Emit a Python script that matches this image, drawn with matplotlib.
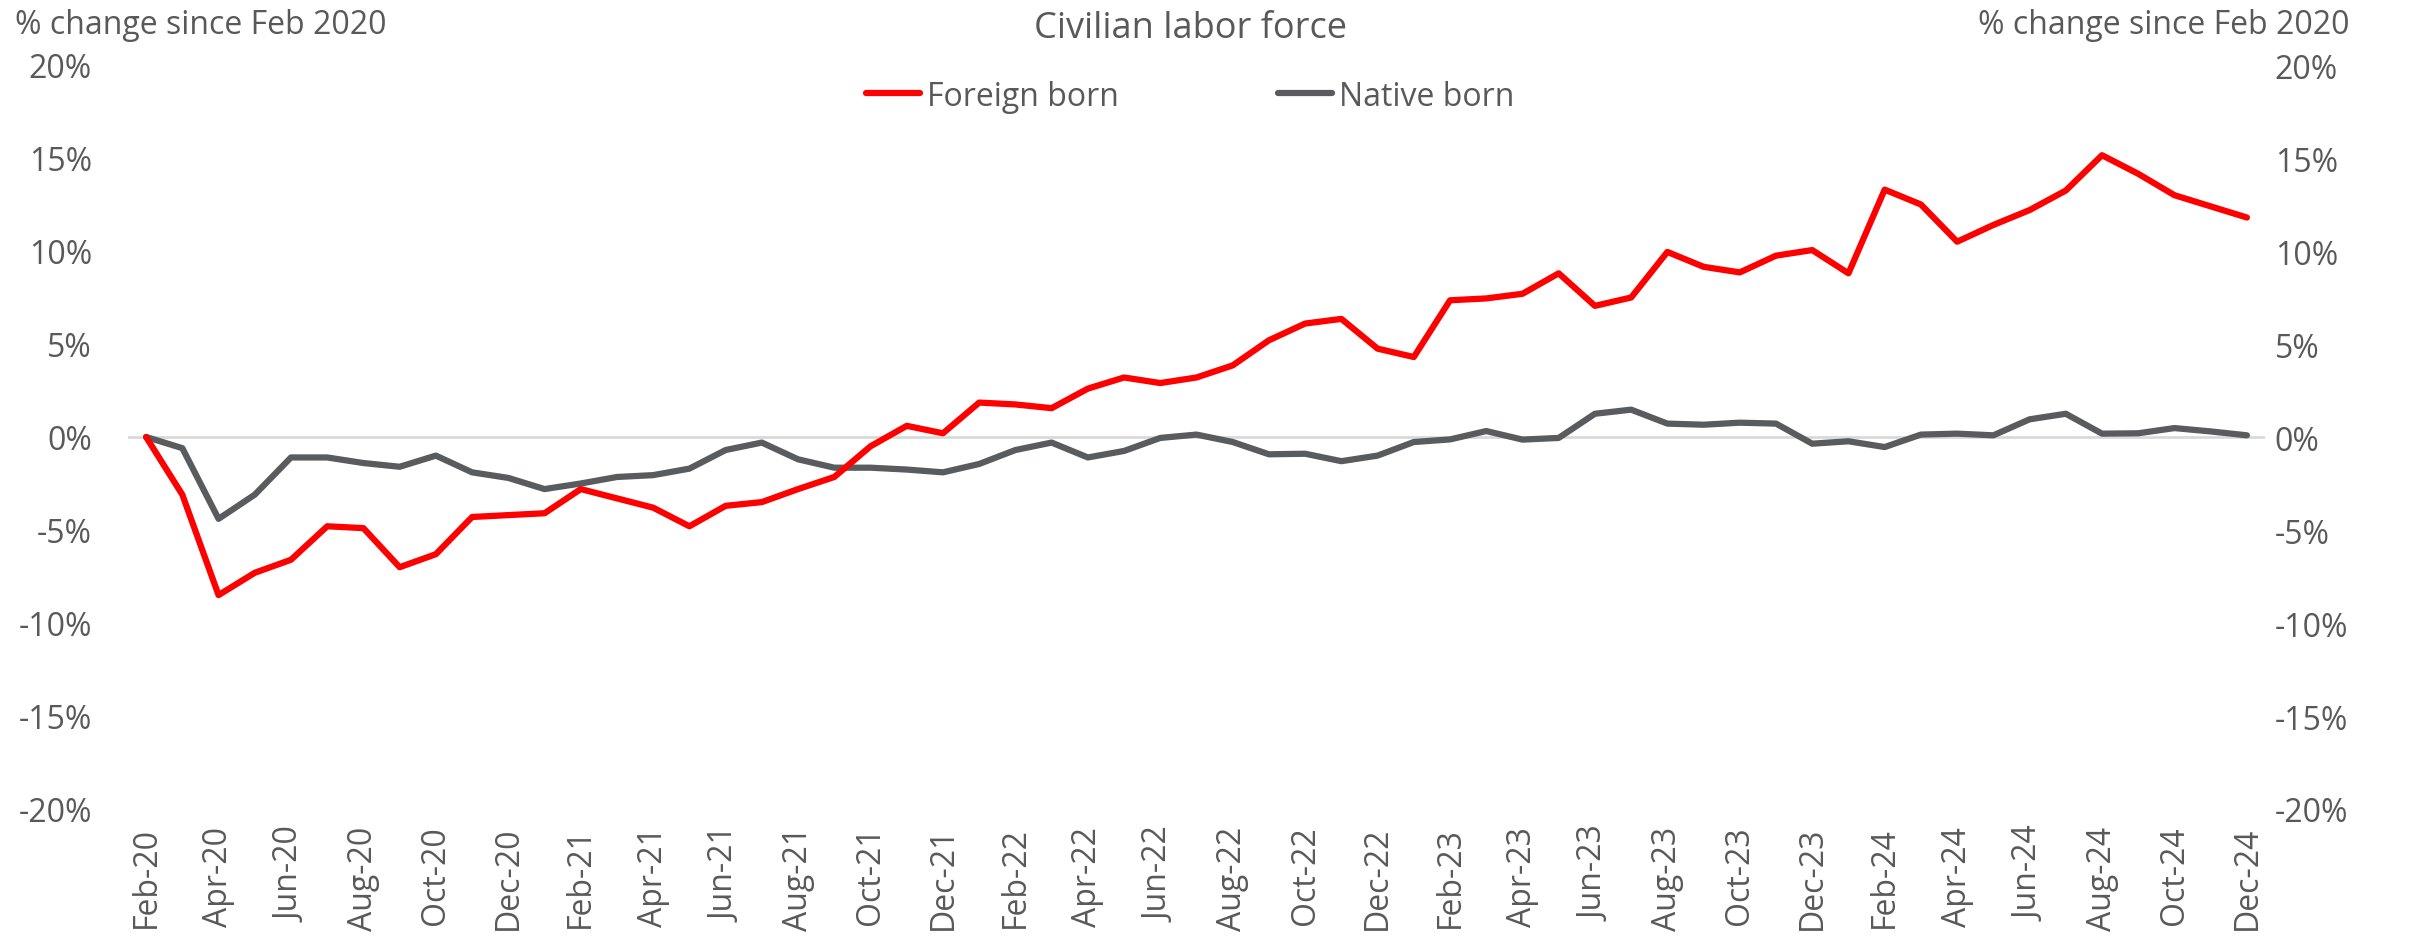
import matplotlib
matplotlib.use("Agg")
import matplotlib.pyplot as plt
import pandas as pd

# ---- data ----
months = pd.date_range("2020-02-01", "2024-12-01", freq="MS")
month_labels = [d.strftime("%b-%y") for d in months]

foreign_born = [
    0.0, -3.1, -8.5, -7.3, -6.6, -4.8, -4.9, -7.0, -6.3, -4.3, -4.2,          # 2020 Feb-Dec
    -4.1, -2.8, -3.3, -3.8, -4.8, -3.7, -3.5, -2.8, -2.15, -0.5, 0.6, 0.2,     # 2021
    1.85, 1.75, 1.55, 2.6, 3.2, 2.9, 3.2, 3.85, 5.2, 6.1, 6.35, 4.75,          # 2022
    4.3, 7.35, 7.45, 7.7, 8.8, 7.05, 7.5, 9.95, 9.15, 8.85, 9.75, 10.05,       # 2023
    8.8, 13.3, 12.5, 10.5, 11.4, 12.2, 13.25, 15.15, 14.15, 13.0, 12.4, 11.8,  # 2024
]
native_born = [
    0.0, -0.6, -4.4, -3.1, -1.1, -1.1, -1.4, -1.6, -1.0, -1.9, -2.2,
    -2.8, -2.5, -2.15, -2.05, -1.7, -0.7, -0.3, -1.2, -1.65, -1.65, -1.75, -1.9,
    -1.45, -0.7, -0.3, -1.1, -0.75, -0.05, 0.13, -0.27, -0.93, -0.9, -1.3, -1.0,
    -0.27, -0.13, 0.32, -0.14, -0.05, 1.25, 1.47, 0.72, 0.66, 0.77, 0.72, -0.36,
    -0.23, -0.54, 0.13, 0.18, 0.09, 0.95, 1.25, 0.18, 0.2, 0.48, 0.3, 0.09,
]
y_ticks = [-20, -15, -10, -5, 0, 5, 10, 15, 20]
series_names = ["Foreign born", "Native born"]
title = "Civilian labor force"
axis_title = "% change since Feb 2020"

# ---- style ----
plt.rcParams["font.family"] = ["Open Sans", "DejaVu Sans"]
TXT = "#595959"
FS = 23

W, H = 2410, 953
fig = plt.figure(figsize=(W / 100, H / 100), dpi=100)
left, right, top, bottom = 128, 2265, 66, 810
ax = fig.add_axes([left / W, 1 - bottom / H, (right - left) / W, (bottom - top) / H])

x = list(range(len(month_labels)))
ax.axhline(0, color="#d9d9d9", lw=2, zorder=1)
ax.plot(x, foreign_born, color="#ff0000", lw=4.5, label=series_names[0],
        solid_joinstyle="round", solid_capstyle="round", zorder=3)
ax.plot(x, native_born, color="#595c5e", lw=4.5, label=series_names[1],
        solid_joinstyle="round", solid_capstyle="round", zorder=2)

ax.set_xlim(-0.5, len(x) - 0.5)
ax.set_ylim(-20, 20)
ax.set_yticks(y_ticks)
ax.set_yticklabels([f"{v}%" for v in y_ticks])
ax.set_xticks(x[::2])
ax.set_xticklabels(month_labels[::2], rotation=90)
for s in ax.spines.values():
    s.set_visible(False)
ax.tick_params(axis="y", length=0, pad=26, labelsize=FS, labelcolor=TXT)
ax.tick_params(axis="x", length=0, pad=12, labelsize=FS, labelcolor=TXT)

ax2 = ax.twinx()
ax2.set_ylim(-20, 20)
ax2.set_yticks(y_ticks)
ax2.set_yticklabels([f"{v}%" for v in y_ticks])
for s in ax2.spines.values():
    s.set_visible(False)
ax2.tick_params(axis="y", length=0, pad=7, labelsize=FS, labelcolor=TXT)

fig.text(1190 / W, 1 - 29 / H, title, ha="center", va="center", fontsize=26, color=TXT)
fig.text(15 / W, 1 - 26 / H, axis_title, ha="left", va="center", fontsize=FS, color=TXT)
fig.text(2349 / W, 1 - 26 / H, axis_title, ha="right", va="center", fontsize=FS, color=TXT)

leg = fig.legend(loc="center", bbox_to_anchor=(1190 / W, 1 - 97 / H), ncol=2, frameon=False,
                 fontsize=FS, handlelength=1.7, handletextpad=0.2, columnspacing=5.0)
for t in leg.get_texts():
    t.set_color(TXT)

fig.savefig("out.png", dpi=100)
